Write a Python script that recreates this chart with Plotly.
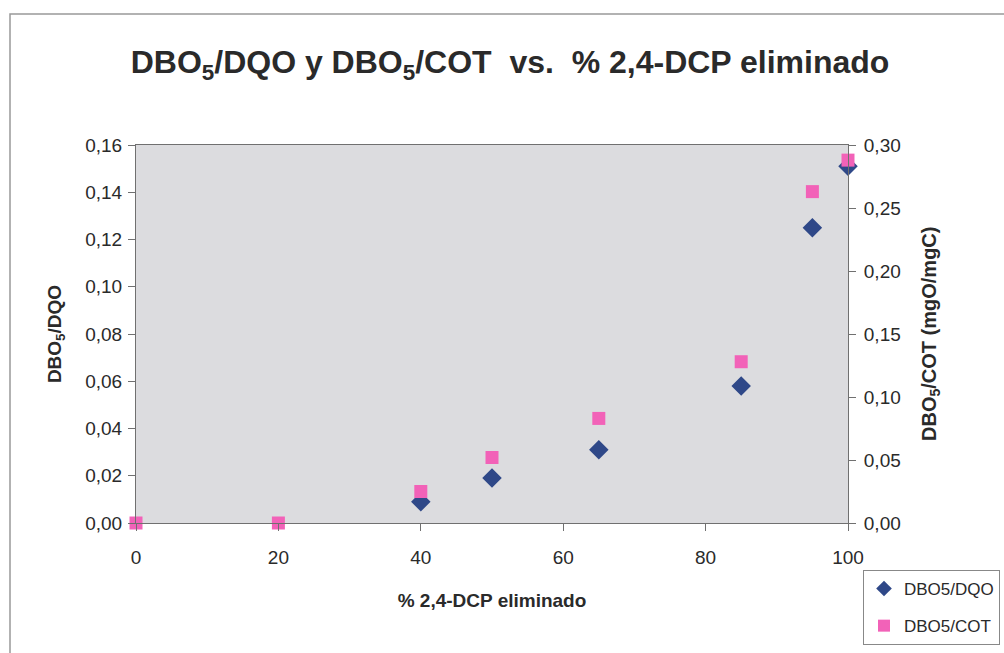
import plotly.graph_objects as go

x_pct = [0, 20, 40, 50, 65, 85, 95, 100]
dbo_dqo = [None, None, 0.009, 0.019, 0.031, 0.058, 0.125, 0.151]
dbo_cot = [0.0, 0.0, 0.025, 0.052, 0.083, 0.128, 0.263, 0.288]

FONT = "Liberation Sans, Arial, sans-serif"
NAVY = "#2f4888"
PINK = "#f262b8"
TXT = "#2a2a2a"

fig = go.Figure()
fig.add_trace(go.Scatter(x=x_pct, y=dbo_dqo, mode="markers", name="DBO5/DQO",
                         legendgroup="a", cliponaxis=False,
                         marker=dict(symbol="diamond", size=15, color=NAVY), yaxis="y"))
fig.add_trace(go.Scatter(x=x_pct, y=dbo_cot, mode="markers", name="DBO5/COT",
                         legendgroup="b", cliponaxis=False,
                         marker=dict(symbol="square", size=13, color=PINK), yaxis="y2"))

axis_common = dict(showgrid=False, zeroline=False, showline=True, linecolor="#707070",
                   linewidth=1, ticks="outside", ticklen=7, tickcolor="#707070",
                   automargin=False,
                   tickfont=dict(family=FONT, size=19, color=TXT))

fig.update_layout(
    width=1004, height=653,
    margin=dict(l=136, r=156, t=145, b=130, autoexpand=False),
    paper_bgcolor="white", plot_bgcolor="#dcdcdf",
    separators=",.",
    font=dict(family=FONT, color=TXT),
    title=dict(text="<b>DBO<sub>5</sub>/DQO y DBO<sub>5</sub>/COT  vs.  % 2,4-DCP eliminado</b>",
               x=0.508, xanchor="center", y=0.905, yanchor="middle",
               font=dict(family=FONT, size=32, color=TXT)),
    xaxis=dict(range=[0, 100], dtick=20, mirror=True, ticklabelstandoff=10,
               title=dict(text="<b>% 2,4-DCP eliminado</b>", font=dict(family=FONT, size=19, color=TXT),
                          standoff=26),
               **axis_common),
    yaxis=dict(range=[0, 0.16], dtick=0.02, tickformat=".2f", ticklabelstandoff=2,
               title=dict(text="<b>DBO<sub>5</sub>/DQO</b>", font=dict(family=FONT, size=19, color=TXT),
                          standoff=18),
               **axis_common),
    yaxis2=dict(range=[0, 0.30], dtick=0.05, tickformat=".2f", overlaying="y", side="right",
                ticklabelstandoff=4,
                **axis_common),
    legend=dict(xref="container", yref="container", x=863 / 1004, y=1 - 570 / 653,
                xanchor="left", yanchor="top",
                bgcolor="white", bordercolor="#888", borderwidth=1,
                tracegroupgap=12,
                font=dict(family=FONT, size=17, color=TXT), itemsizing="constant",
                itemwidth=30),
    showlegend=True,
)

fig.add_annotation(text="<b>DBO<sub>5</sub>/COT (mgO/mgC)</b>", xref="paper", yref="paper",
                   x=(930 - 136) / 712, y=0.5, xanchor="center", yanchor="middle",
                   textangle=-90, showarrow=False,
                   font=dict(family=FONT, size=20, color=TXT))

fig.add_shape(type="rect", xref="paper", yref="paper",
              x0=(10 - 136) / 712, x1=1.4, y0=-0.5, y1=(523 - 14) / 378,
              line=dict(color="#999", width=1.5), fillcolor="rgba(0,0,0,0)", layer="below")

fig.write_html("out.html")
